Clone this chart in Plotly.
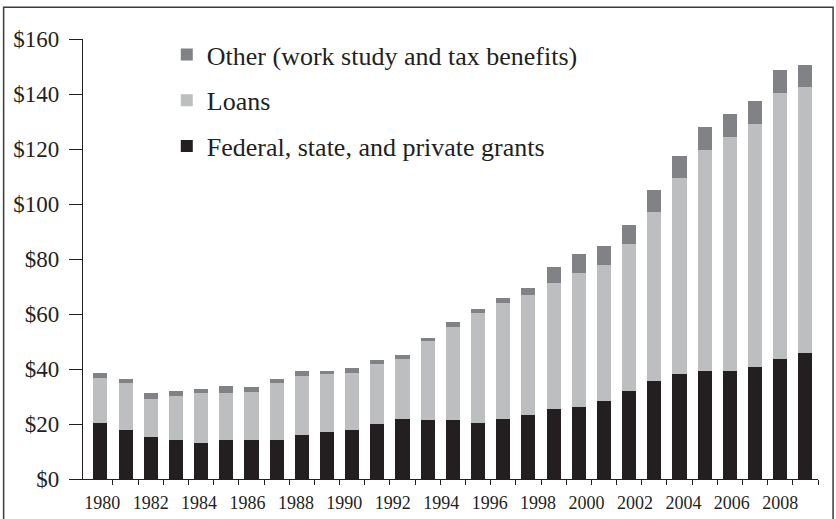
import plotly.graph_objects as go

years = list(range(1980, 2009))
grants = [20.4, 17.8, 15.2, 14.1, 13.0, 14.1, 14.1, 14.1, 15.9, 17.0,
          17.7, 19.9, 21.7, 21.3, 21.3, 20.3, 21.7, 23.2, 25.4, 26.1,
          28.4, 32.0, 35.6, 38.2, 39.3, 39.3, 40.7, 43.6, 45.8]
loans = [16.2, 17.1, 13.9, 16.0, 18.3, 17.2, 17.5, 20.8, 21.6, 21.2,
         20.8, 21.8, 21.8, 28.8, 33.9, 40.0, 42.2, 43.6, 45.8, 48.7,
         49.4, 53.5, 61.5, 71.3, 80.3, 85.1, 88.4, 96.8, 96.7]
other = [2.1, 1.4, 2.2, 1.8, 1.3, 2.4, 1.7, 1.4, 1.7, 1.0,
         1.8, 1.5, 1.5, 1.1, 1.8, 1.4, 1.8, 2.5, 5.8, 6.9,
         6.9, 6.9, 8.0, 8.0, 8.4, 8.3, 8.4, 8.3, 8.0]
label_years = list(range(1980, 2009, 2))
y_ticks = list(range(0, 161, 20))

names = ["Federal, state, and private grants", "Loans",
         "Other (work study and tax benefits)"]
colors = ["#231f20", "#bcbec0", "#808285"]
ranks = [3, 2, 1]
INK = "#231f20"
FONT = "Liberation Serif"

fig = go.Figure()
for i, (nm, vals, col) in enumerate(zip(names, [grants, loans, other], colors)):
    fig.add_trace(go.Bar(x=years, y=vals, name=nm, marker_color=col,
                         marker_line_width=0, width=0.56,
                         legendgroup=str(i), legendrank=ranks[i],
                         hoverinfo="skip"))

# carrier trace for the year-label axis (draws nothing)
fig.add_trace(go.Scatter(x=label_years, y=[0] * len(label_years), xaxis="x2",
                         mode="none", showlegend=False, hoverinfo="skip"))

fig.update_layout(
    width=836, height=519,
    margin=dict(l=83, r=18, t=39, b=40, autoexpand=False),
    barmode="stack",
    plot_bgcolor="white", paper_bgcolor="white",
    font=dict(family=FONT, color=INK),
    showlegend=True,
    legend=dict(x=0.114, y=1.018, xanchor="left", yanchor="top",
                traceorder="grouped", tracegroupgap=9,
                font=dict(size=26, family=FONT, color=INK),
                bgcolor="rgba(0,0,0,0)"),
    xaxis=dict(range=[1979.31, 2008.5], showline=True, linecolor=INK,
               linewidth=1.3, showgrid=False, zeroline=False,
               showticklabels=False, ticks="", automargin=False,
               minor=dict(tickmode="array", tickvals=[y + 0.5 for y in years],
                          ticks="outside", ticklen=5, tickwidth=1.3,
                          tickcolor=INK, showgrid=False)),
    xaxis2=dict(overlaying="x", anchor="y", side="bottom",
                range=[1979.207, 2009.558], tickmode="array",
                tickvals=label_years, ticktext=[str(y) for y in label_years],
                ticks="", showline=False, showgrid=False, zeroline=False,
                ticklabelstandoff=11, automargin=False,
                tickfont=dict(size=18, family=FONT, color=INK)),
    yaxis=dict(range=[0, 160], tickmode="array", tickvals=y_ticks,
               ticktext=["$%d" % v for v in y_ticks],
               showline=True, linecolor=INK, linewidth=1.3,
               ticks="outside", ticklen=13, tickwidth=1.3, tickcolor=INK,
               ticklabelstandoff=5, automargin=False,
               showgrid=False, zeroline=False,
               tickfont=dict(size=23, family=FONT, color=INK)),
)

# outer frame of the figure
fig.add_shape(type="rect", xref="paper", yref="paper",
              x0=-0.108, x1=1.0205, y0=-0.12, y1=1.072,
              line=dict(color="#3a3a3a", width=1.5), fillcolor="rgba(0,0,0,0)",
              layer="below")

fig.write_html("out.html", config={"displayModeBar": False},
               post_script="document.body.style.margin='0';")
